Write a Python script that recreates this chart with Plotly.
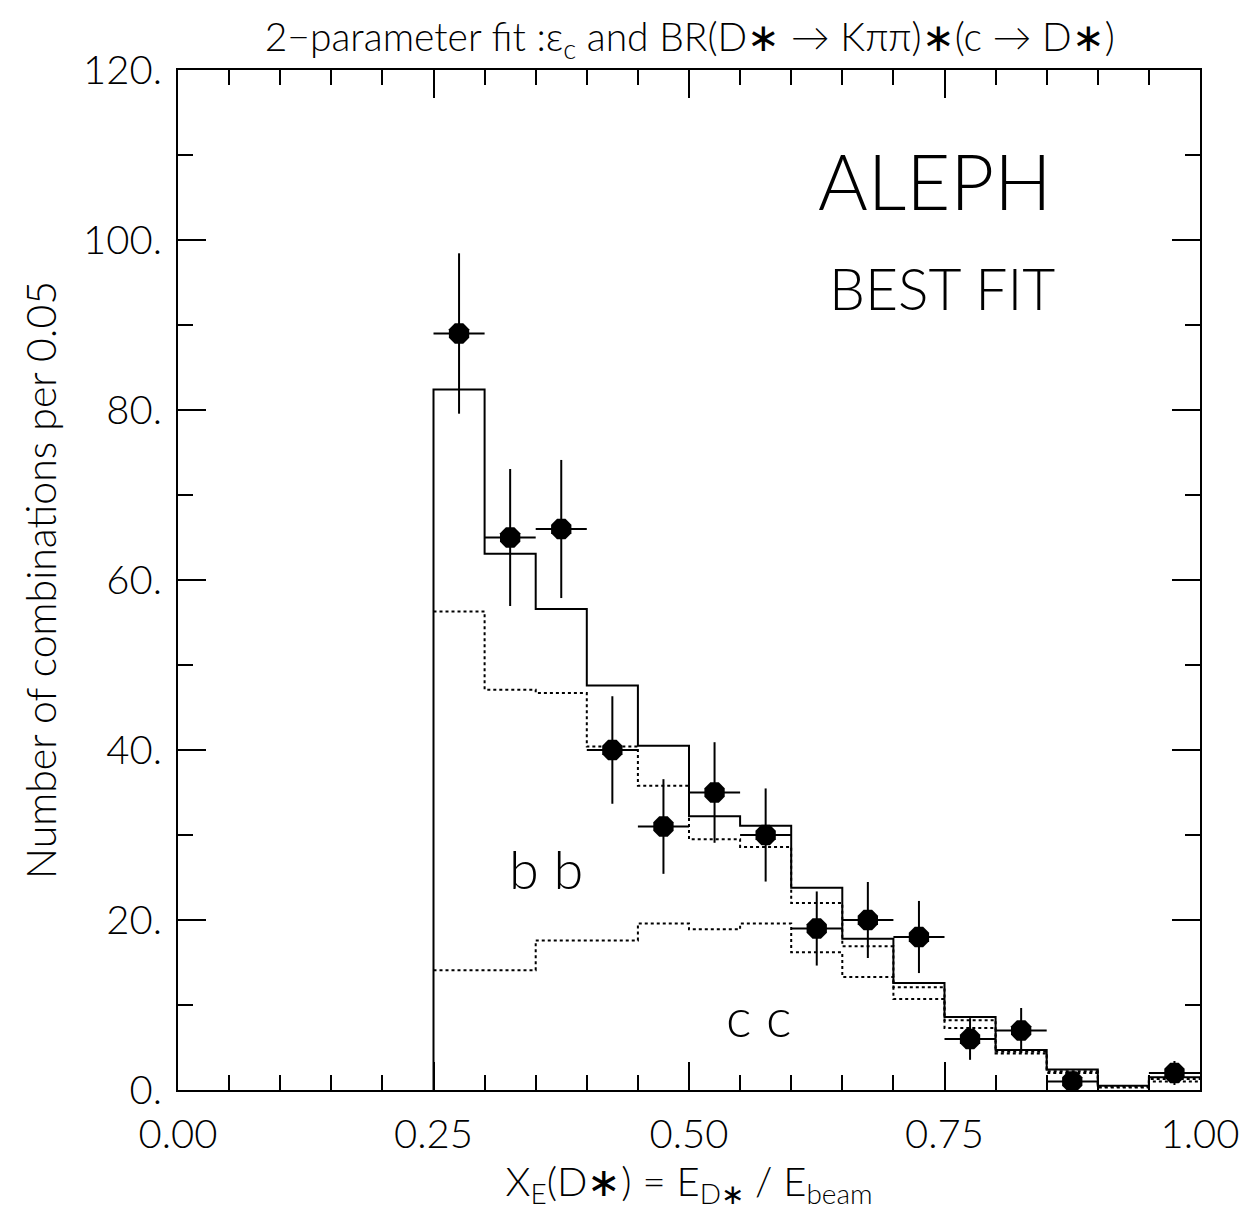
import plotly.graph_objects as go
import numpy as np

# ---- data ----
bin_edges = [0.25, 0.30, 0.35, 0.40, 0.45, 0.50, 0.55, 0.60, 0.65, 0.70,
             0.75, 0.80, 0.85, 0.90, 0.95, 1.00]
fit_total = [82.4, 63.1, 56.6, 47.6, 40.5, 32.2, 31.1, 23.8, 17.8, 12.6,
             8.6, 4.7, 2.4, 0.5, 1.5]
fit_bb_cc = [56.3, 47.1, 46.7, 40.4, 35.8, 29.5, 28.6, 22.0, 16.9, 12.1,
             8.2, 4.5, 2.2, 0.4, 1.3]
fit_cc = [14.1, 14.1, 17.6, 17.6, 19.6, 18.9, 19.6, 16.2, 13.3, 10.7,
          7.3, 4.3, 2.0, 0.3, 1.0]
data_x = [0.275, 0.325, 0.375, 0.425, 0.475, 0.525, 0.575, 0.625, 0.675,
          0.725, 0.775, 0.825, 0.875, 0.975]
data_n = [89, 65, 66, 40, 31, 35, 30, 19, 20, 18, 6, 7, 1, 2]
x_tick_vals = [0.0, 0.25, 0.5, 0.75, 1.0]
x_tick_text = ["0.00", "0.25", "0.50", "0.75", "1.00"]
y_tick_vals = [0, 20, 40, 60, 80, 100, 120]
y_tick_text = ["0.", "20.", "40.", "60.", "80.", "100.", "120."]

FONT = "Lato, 'Liberation Sans', sans-serif"

fig = go.Figure()


def step_xy(vals, from_zero=False):
    xs = list(bin_edges)
    ys = list(vals) + [vals[-1]]
    if from_zero:
        xs = [bin_edges[0]] + xs
        ys = [0] + ys
    return xs, ys


for vals, dash in [(fit_cc, "dot"), (fit_bb_cc, "dot")]:
    xs, ys = step_xy(vals)
    fig.add_trace(go.Scatter(x=xs, y=ys, mode="lines", line_shape="hv",
                             line=dict(color="black", width=2, dash=dash),
                             showlegend=False, hoverinfo="skip"))

xs, ys = step_xy(fit_total, from_zero=True)
fig.add_trace(go.Scatter(x=xs, y=ys, mode="lines", line_shape="hv",
                         line=dict(color="black", width=2),
                         showlegend=False, hoverinfo="skip"))

half_w = [(bin_edges[1] - bin_edges[0]) / 2] * len(data_x)
fig.add_trace(go.Scatter(
    x=data_x, y=data_n, mode="markers",
    marker=dict(symbol="octagon", size=22, color="black"),
    error_x=dict(type="data", array=half_w, width=0, thickness=2, color="black"),
    error_y=dict(type="data", array=list(np.sqrt(data_n)), width=0, thickness=2, color="black"),
    showlegend=False))

axis_common = dict(showline=True, linecolor="black", linewidth=2, mirror="ticks",
                   ticks="inside", tickcolor="black", tickwidth=2, ticklen=28,
                   showgrid=False, zeroline=False,
                   tickfont=dict(family=FONT, size=40, color="black", weight=300))

fig.update_xaxes(range=[0, 1], tickvals=x_tick_vals, ticktext=x_tick_text,
                 ticklabelstandoff=8,
                 minor=dict(dtick=0.05, tick0=0, ticks="inside", ticklen=15,
                            tickwidth=2, tickcolor="black", showgrid=False),
                 title=dict(text="X<sub>E</sub>(D∗) = E<sub>D∗</sub> / E<sub>beam</sub>",
                            font=dict(family=FONT, size=40, color="black", weight=300),
                            standoff=2),
                 **axis_common)
fig.update_yaxes(range=[0, 120], tickvals=y_tick_vals, ticktext=y_tick_text,
                 ticklabelstandoff=6,
                 minor=dict(dtick=10, tick0=0, ticks="inside", ticklen=15,
                            tickwidth=2, tickcolor="black", showgrid=False),
                 title=dict(text="Number of combinations per 0.05",
                            font=dict(family=FONT, size=41, color="black", weight=300),
                            standoff=14),
                 **axis_common)

ann_font = lambda s: dict(family=FONT, size=s, color="black", weight=300)
fig.add_annotation(x=0.741, y=107, text="ALEPH", showarrow=False, font=ann_font(76))
fig.add_annotation(x=0.748, y=94.4, text="BEST FIT", showarrow=False, font=ann_font(57))
fig.add_annotation(x=0.36, y=26.1, text="b b", showarrow=False, font=ann_font(54))
fig.add_annotation(x=0.5685, y=8.6, text="c c", showarrow=False, font=ann_font(54))

fig.update_layout(
    width=1251, height=1204,
    margin=dict(l=170, r=59, t=62, b=122),
    paper_bgcolor="white", plot_bgcolor="white",
    title=dict(text="2−parameter fit :ε<sub>c</sub> and BR(D∗ → Kππ)∗(c → D∗)",
               x=0.545, xanchor="center", y=0.976, yanchor="middle",
               font=dict(family=FONT, size=39, color="black", weight=300)),
)

fig.write_html("out.html")
